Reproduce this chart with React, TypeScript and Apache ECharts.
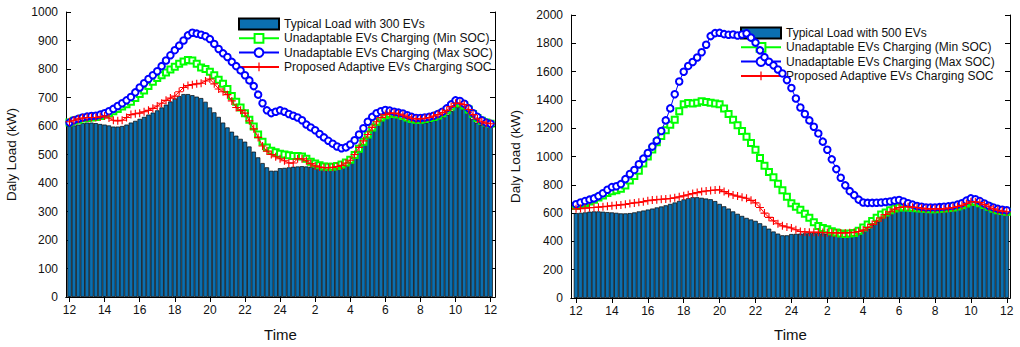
import React, { useEffect, useRef } from "react";
import * as echarts from "echarts";

// x positions: quarter-hour steps from 12:00 (noon) to 12:00 next day (hours, >24 = next day)
const HOURS: number[] = Array.from({ length: 97 }, (_, i) => 12 + i * 0.25);
const X_TICKS = [12, 14, 16, 18, 20, 22, 24, 26, 28, 30, 32, 34, 36];

const NAME_MIN = "Unadaptable EVs Charging (Min SOC)";
const NAME_MAX = "Unadaptable EVs Charging (Max SOC)";
const NAME_ADP = "Proposed Adaptive EVs Charging SOC";
const NAME_BASE_300 = "Typical Load with 300 EVs";
const NAME_BASE_500 = "Typical Load with 500 EVs";

const typicalLoad = [
  600, 602, 605, 610, 612, 612, 610, 607, 605, 602, 598, 598, 600, 605, 612, 618,
  625, 632, 640, 647, 655, 665, 675, 686, 697, 705, 712, 712, 708, 703, 698, 685,
  665, 648, 632, 612, 595, 580, 566, 555, 545, 528, 510, 490, 470, 455, 443, 443,
  452, 453, 455, 457, 458, 459, 458, 457, 455, 452, 450, 448, 448, 449, 452, 460,
  472, 490, 515, 540, 565, 590, 610, 625, 635, 640, 640, 636, 630, 622, 615, 612,
  610, 612, 615, 620, 625, 632, 640, 652, 668, 668, 660, 645, 625, 612, 605, 600,
  598,
];

const minSoc300 = [
  612, 618, 622, 626, 628, 630, 632, 635, 640, 645, 652, 660, 668, 676, 685, 698,
  712, 725, 740, 755, 768, 778, 788, 798, 808, 818, 826, 832, 830, 818, 805, 800,
  790, 778, 762, 748, 730, 705, 685, 665, 645, 622, 598, 570, 545, 525, 513, 508,
  503, 500, 497, 495, 495, 493, 485, 475, 468, 462, 458, 457, 457, 460, 465, 472,
  482, 498, 520, 545, 570, 595, 615, 630, 638, 642, 642, 640, 635, 630, 625, 622,
  622, 625, 628, 632, 637, 645, 655, 668, 680, 680, 672, 658, 642, 628, 618, 612,
  608,
];

const maxSoc300 = [
  612, 620, 625, 630, 633, 635, 636, 640, 645, 652, 660, 670, 680, 690, 702, 718,
  735, 750, 765, 778, 792, 810, 830, 848, 866, 882, 900, 918, 927, 924, 920, 915,
  905, 888, 870, 855, 842, 825, 810, 795, 778, 760, 740, 710, 680, 655, 645, 650,
  655, 650, 642, 636, 630, 620, 605, 595, 585, 572, 560, 548, 538, 528, 522, 525,
  535, 550, 570, 592, 615, 632, 645, 652, 656, 654, 650, 647, 644, 638, 632, 628,
  628, 630, 632, 636, 642, 650, 662, 676, 690, 688, 678, 662, 645, 632, 620, 612,
  608,
];

const adaptive300 = [
  615, 620, 625, 628, 630, 630, 630, 632, 635, 628, 620, 618, 620, 630, 640, 643,
  645, 650, 655, 662, 670, 680, 690, 698, 705, 720, 735, 742, 745, 748, 750, 758,
  765, 748, 730, 720, 710, 688, 665, 655, 645, 618, 590, 560, 530, 512, 500, 492,
  485, 478, 470, 470, 485, 485, 478, 468, 460, 456, 454, 454, 455, 458, 462, 470,
  480, 500, 525, 548, 570, 595, 615, 630, 640, 645, 645, 642, 638, 632, 627, 625,
  625, 627, 630, 635, 640, 647, 655, 668, 680, 680, 675, 658, 640, 625, 615, 610,
  608,
];

const minSoc500 = [
  650, 660, 670, 682, 695, 710, 725, 742, 755, 762, 772, 795, 830, 862, 900, 950,
  1000, 1050, 1100, 1145, 1186, 1225, 1260, 1320, 1370, 1378, 1375, 1380, 1390, 1385, 1380, 1375,
  1370, 1340, 1300, 1260, 1220, 1180, 1140, 1095, 1048, 990, 934, 890, 853, 808, 762, 715,
  670, 645, 624, 595, 567, 535, 509, 495, 486, 472, 463, 455, 452, 455, 460, 475,
  498, 520, 545, 568, 590, 605, 620, 632, 640, 642, 640, 637, 635, 632, 630, 628,
  628, 630, 632, 636, 640, 647, 655, 668, 680, 678, 670, 658, 645, 630, 620, 614,
  610,
];

const maxSoc500 = [
  663, 675, 685, 695, 704, 720, 740, 765, 784, 790, 805, 840, 876, 905, 945, 985,
  1025, 1070, 1112, 1180, 1255, 1340, 1440, 1530, 1599, 1640, 1668, 1700, 1737, 1790, 1851, 1872,
  1874, 1865, 1860, 1862, 1855, 1862, 1870, 1840, 1805, 1750, 1702, 1670, 1644, 1615, 1587, 1540,
  1484, 1410, 1346, 1300, 1255, 1210, 1163, 1105, 1048, 980, 911, 850, 796, 755, 727, 695,
  675, 672, 672, 673, 675, 678, 682, 688, 693, 682, 670, 660, 650, 645, 640, 640,
  640, 642, 645, 648, 652, 660, 670, 688, 704, 698, 685, 668, 652, 640, 630, 624,
  620,
];

const adaptive500 = [
  630, 632, 635, 638, 640, 642, 645, 648, 652, 655, 658, 662, 668, 672, 676, 680,
  688, 692, 695, 698, 700, 703, 708, 715, 722, 730, 738, 745, 752, 756, 760, 763,
  765, 752, 738, 728, 720, 712, 705, 690, 672, 640, 600, 570, 545, 525, 510, 502,
  495, 482, 470, 467, 465, 465, 465, 463, 462, 461, 460, 460, 460, 462, 465, 470,
  480, 498, 520, 542, 565, 590, 610, 628, 640, 645, 645, 642, 640, 635, 630, 630,
  630, 630, 630, 635, 640, 647, 655, 668, 680, 680, 675, 660, 645, 630, 620, 614,
  610,
];

const FONT = "'Liberation Sans', Arial, Helvetica, sans-serif";
const PLUS = "path://M4.3,0H5.7V4.3H10V5.7H5.7V10H4.3V5.7H0V4.3H4.3Z";

const pairs = (vals: number[]) => vals.map((v, i) => [HOURS[i], v]);

function axesFor(grid: number, xMin: number, xMax: number, yMax: number, yInt: number, nameGapY: number, nameGapX: number) {
  const line = { show: true, lineStyle: { color: "#000", width: 1 } };
  const tick = { show: true, inside: true, length: 5, lineStyle: { color: "#000", width: 1 } };
  const lbl = { color: "#111", fontFamily: FONT, fontSize: 12 };
  const x = [
    {
      type: "value", gridIndex: grid, min: xMin, max: xMax, position: "bottom",
      axisLine: line, splitLine: { show: false },
      axisTick: { ...tick, customValues: X_TICKS },
      axisLabel: { ...lbl, margin: 7, customValues: X_TICKS, formatter: (v: number) => String(v > 24 ? v - 24 : v) },
      name: "Time", nameLocation: "middle", nameGap: nameGapX,
      nameTextStyle: { color: "#111", fontFamily: FONT, fontSize: 15 },
    },
    {
      type: "value", gridIndex: grid, min: xMin, max: xMax, position: "top",
      axisLine: line, splitLine: { show: false },
      axisTick: { ...tick, customValues: X_TICKS },
      axisLabel: { show: false },
    },
  ];
  const y = [
    {
      type: "value", gridIndex: grid, min: 0, max: yMax, interval: yInt, position: "left",
      axisLine: line, splitLine: { show: false }, axisTick: tick,
      axisLabel: { ...lbl, margin: 8, formatter: (v: number) => String(v) },
      name: "Daly Load (kW)", nameLocation: "middle", nameGap: nameGapY, nameRotate: 90,
      nameTextStyle: { color: "#111", fontFamily: FONT, fontSize: 13.5 },
    },
    {
      type: "value", gridIndex: grid, min: 0, max: yMax, interval: yInt, position: "right",
      axisLine: line, splitLine: { show: false }, axisTick: tick,
      axisLabel: { show: false },
    },
  ];
  return { x, y };
}

function seriesFor(axisIdx: number, baseName: string, base: number[], mn: number[], mx: number[], ad: number[]) {
  const common = { xAxisIndex: axisIdx, yAxisIndex: axisIdx };
  return [
    {
      ...common, name: baseName, type: "bar", data: pairs(base), barWidth: "100%",
      itemStyle: { color: "#0b6fb0", borderColor: "#000", borderWidth: 0.7 }, z: 1,
    },
    {
      ...common, name: NAME_MIN, type: "line", data: pairs(mn), showAllSymbol: true,
      symbol: "emptyRect", symbolSize: 6, color: "#00ff00",
      lineStyle: { color: "#00ff00", width: 1 }, itemStyle: { color: "#00ff00", borderWidth: 1 }, z: 3,
    },
    {
      ...common, name: NAME_MAX, type: "line", data: pairs(mx), showAllSymbol: true,
      symbol: "emptyCircle", symbolSize: 6.5, color: "#0000ff",
      lineStyle: { color: "#0000ff", width: 1 }, itemStyle: { color: "#0000ff", borderWidth: 2.2 }, z: 4,
    },
    {
      ...common, name: NAME_ADP, type: "line", data: pairs(ad), showAllSymbol: true,
      symbol: PLUS, symbolSize: 8, color: "#ff0000",
      lineStyle: { color: "#ff0000", width: 1 }, itemStyle: { color: "#ff0000" }, z: 5,
    },
  ];
}

function legendFor(left: number, top: number, baseName: string) {
  return {
    left, top, orient: "vertical", selectedMode: false,
    itemWidth: 40, itemHeight: 11, itemGap: 0.3,
    padding: 0,
    textStyle: { color: "#111", fontFamily: FONT, fontSize: 12, lineHeight: 14 },
    data: [
      { name: baseName, icon: "rect" },
      { name: NAME_MIN },
      { name: NAME_MAX },
      { name: NAME_ADP },
    ],
  };
}

export default function App() {
  const ref = useRef<HTMLDivElement>(null);
  useEffect(() => {
    if (!ref.current) return;
    const chart = echarts.init(ref.current, undefined, { renderer: "svg" });
    const a = axesFor(0, 11.8, 36.25, 1000, 100, 48, 30);
    const b = axesFor(1, 11.72, 36.18, 2000, 200, 49, 29);
    chart.setOption({
      animation: false,
      backgroundColor: "#fff",
      textStyle: { fontFamily: FONT },
      grid: [
        { left: 66, top: 12, width: 429, height: 295 },
        { left: 571, top: 15, width: 439, height: 291 },
      ],
      xAxis: [...a.x, ...b.x],
      yAxis: [...a.y, ...b.y],
      legend: [legendFor(238, 17, NAME_BASE_300), legendFor(740, 26, NAME_BASE_500)],
      series: [
        ...seriesFor(0, NAME_BASE_300, typicalLoad, minSoc300, maxSoc300, adaptive300),
        ...seriesFor(2, NAME_BASE_500, typicalLoad, minSoc500, maxSoc500, adaptive500),
      ],
    });
    return () => chart.dispose();
  }, []);
  return (
    <div
      ref={ref}
      style={{ position: "fixed", left: 0, top: 0, width: 1020, height: 347 }}
    />
  );
}
